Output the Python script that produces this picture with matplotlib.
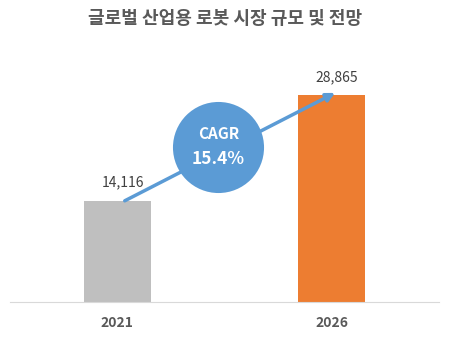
import matplotlib.pyplot as plt

plt.rcParams["font.family"] = ["Noto Sans CJK KR", "DejaVu Sans"]

years = ["2021", "2026"]
market = [14116, 28865]
bar_colors = ["#BFBFBF", "#ED7D31"]
cagr_label = "15.4%"
title = "글로벌 산업용 로봇 시장 규모 및 전망"

fig = plt.figure(figsize=(4.51, 3.39), dpi=100)
ax = fig.add_axes([0.0222, 0.109, 0.951, 0.714])

xs = range(len(years))
ax.bar(xs, market, width=0.313, color=bar_colors, zorder=2)
ax.set_xlim(-0.5, 1.5)
ax.set_ylim(0, 33750)

for x, v in zip(xs, market):
    ax.annotate(f"{v:,}", (x, v), xytext=(4, 8), textcoords="offset points",
                ha="center", va="bottom", fontsize=10, color="#404040")

# growth arrow between the two bars
ax.annotate("", xy=(1.016, market[1] + 300), xytext=(0.035, market[0]),
            arrowprops=dict(arrowstyle="-|>,head_length=0.5,head_width=0.25",
                            color="#5B9BD5", lw=2.5, shrinkA=0, shrinkB=0),
            zorder=3)

ax.scatter([0.472], [21550], s=4300, color="#5B9BD5", zorder=4, linewidths=0)
ax.text(0.472, 23400, "CAGR", ha="center", va="center", fontsize=11,
        fontweight="bold", color="white", zorder=5)
ax.text(0.472, 19900, cagr_label, ha="center", va="center", fontsize=12.5,
        fontweight="bold", color="white", zorder=5)

ax.set_xticks(list(xs))
ax.set_xticklabels(years, fontsize=10, fontweight="bold", color="#595959")
ax.tick_params(axis="x", length=0, pad=10)
ax.set_yticks([])
for side in ["top", "right", "left"]:
    ax.spines[side].set_visible(False)
ax.spines["bottom"].set_color("#D9D9D9")

fig.text(0.5, 0.945, title, ha="center", va="center", fontsize=13,
         fontweight="bold", color="#595959")

fig.savefig("out.png", dpi=100)
